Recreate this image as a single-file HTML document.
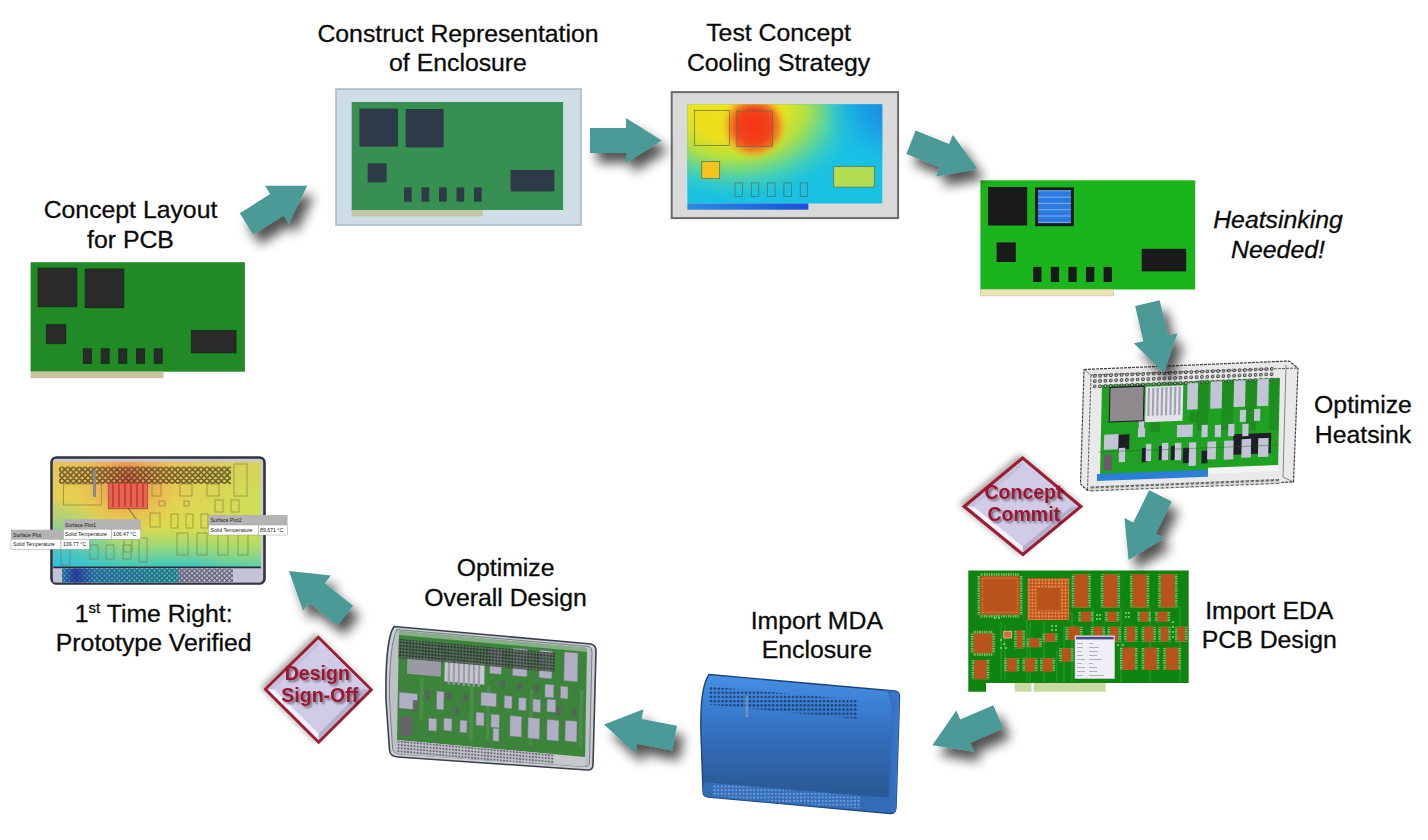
<!DOCTYPE html>
<html><head><meta charset="utf-8">
<style>
html,body{margin:0;padding:0;background:#fff;}
body{width:1428px;height:840px;overflow:hidden;position:relative;}
svg{position:absolute;left:0;top:0;display:block;}
text{font-family:"Liberation Sans",sans-serif;}
.lbl{font-size:24.8px;fill:#0a0a0a;text-anchor:middle;stroke:#0a0a0a;stroke-width:0.3px;}
.dtx{font-size:19.5px;font-weight:bold;fill:#9c1430;text-anchor:middle;}
</style></head><body>
<svg width="1428" height="840" viewBox="0 0 1428 840">
<defs>
 <filter id="sh" x="-60%" y="-60%" width="220%" height="220%">
   <feGaussianBlur in="SourceAlpha" stdDeviation="5.8"/>
   <feOffset dx="7" dy="10" result="o"/>
   <feComponentTransfer><feFuncA type="linear" slope="0.68"/></feComponentTransfer>
   <feMerge><feMergeNode/><feMergeNode in="SourceGraphic"/></feMerge>
 </filter>
 <filter id="tsh" x="-20%" y="-20%" width="140%" height="140%">
   <feGaussianBlur in="SourceAlpha" stdDeviation="0.8"/>
   <feOffset dx="1.5" dy="1.5"/>
   <feComponentTransfer><feFuncA type="linear" slope="0.45"/></feComponentTransfer>
   <feMerge><feMergeNode/><feMergeNode in="SourceGraphic"/></feMerge>
 </filter>
 <filter id="dsh" x="-30%" y="-30%" width="160%" height="160%">
   <feGaussianBlur in="SourceAlpha" stdDeviation="3"/>
   <feOffset dx="-3" dy="-2"/>
   <feComponentTransfer><feFuncA type="linear" slope="0.35"/></feComponentTransfer>
   <feMerge><feMergeNode/><feMergeNode in="SourceGraphic"/></feMerge>
 </filter>
 <path id="arr" d="M0,-12.6 L36,-12.6 L36,-22.4 L71.8,0 L36,22.4 L36,12.6 L0,12.6Z"/>
</defs>

<!-- ============ LABELS ============ -->
<text class="lbl" x="130.5" y="218.3">Concept Layout</text>
<text class="lbl" x="130.5" y="247.6">for PCB</text>
<text class="lbl" x="458" y="42.0">Construct Representation</text>
<text class="lbl" x="458" y="71.2">of Enclosure</text>
<text class="lbl" x="778.6" y="40.8">Test Concept</text>
<text class="lbl" x="778.6" y="70.6">Cooling Strategy</text>
<text class="lbl" x="1278" y="228" font-style="italic">Heatsinking</text>
<text class="lbl" x="1278" y="257.8" font-style="italic">Needed!</text>
<text class="lbl" x="1363" y="412.6">Optimize</text>
<text class="lbl" x="1363" y="442.6">Heatsink</text>
<text class="lbl" x="1269.3" y="618.5">Import EDA</text>
<text class="lbl" x="1269.3" y="647.8">PCB Design</text>
<text class="lbl" x="816.8" y="628.7">Import MDA</text>
<text class="lbl" x="816.8" y="657.6">Enclosure</text>
<text class="lbl" x="505.6" y="576.2">Optimize</text>
<text class="lbl" x="505.6" y="605.6">Overall Design</text>
<text class="lbl" x="153.7" y="621.9">1<tspan font-size="15" dy="-9">st</tspan><tspan dy="9"> Time Right:</tspan></text>
<text class="lbl" x="153.7" y="651.4">Prototype Verified</text>

<!-- ============ BOARD 1: Concept Layout ============ -->
<g id="b1">
 <rect x="30.6" y="262.2" width="214.3" height="109.5" fill="#218a27"/>
 <rect x="30.6" y="371.7" width="133" height="6.5" fill="#cac3a2"/>
 <g fill="#2b2a2b" stroke="#0f2a10" stroke-width="0.8">
  <rect x="38.1" y="268.1" width="38.7" height="38.7"/>
  <rect x="85.1" y="269" width="38.7" height="38.7"/>
  <rect x="46.4" y="324.7" width="19.4" height="19"/>
  <rect x="191.3" y="330.6" width="44.7" height="22.3"/>
  <rect x="83.3" y="348.8" width="8" height="14.5"/>
  <rect x="101.1" y="348.8" width="8" height="14.5"/>
  <rect x="118.8" y="348.8" width="8" height="14.5"/>
  <rect x="136.5" y="348.8" width="8" height="14.5"/>
  <rect x="154.2" y="348.8" width="8" height="14.5"/>
 </g>
</g>

<!-- ============ BOARD 2: Construct ============ -->
<g id="b2">
 <rect x="336" y="89" width="245" height="136" fill="#cfdde6" stroke="#a4b8c8" stroke-width="1.5"/>
 <rect x="351.7" y="102" width="211.4" height="108" fill="#378f52"/>
 <rect x="351.7" y="210" width="131.2" height="6.3" fill="#c3c6a9"/>
 <g fill="#2e3a47">
  <rect x="359.4" y="108.6" width="38.6" height="38"/>
  <rect x="405.7" y="109" width="38" height="38.4"/>
  <rect x="367.7" y="163.4" width="18.9" height="18.9"/>
  <rect x="510.6" y="170" width="43.7" height="21.4"/>
  <rect x="404" y="187.4" width="7.7" height="14.3"/>
  <rect x="421.5" y="187.4" width="7.7" height="14.3"/>
  <rect x="439" y="187.4" width="7.7" height="14.3"/>
  <rect x="456.5" y="187.4" width="7.7" height="14.3"/>
  <rect x="474" y="187.4" width="7.7" height="14.3"/>
 </g>
</g>

<!-- ============ BOARD 3: Test Concept heat map ============ -->
<g id="b3">
 <defs>
  <radialGradient id="warm" cx="735" cy="108" r="145" gradientUnits="userSpaceOnUse" gradientTransform="translate(735 108) scale(1 0.72) translate(-735 -108)">
   <stop offset="0" stop-color="#f2e41c"/>
   <stop offset="0.3" stop-color="#ece41e"/>
   <stop offset="0.48" stop-color="#b4e040"/>
   <stop offset="0.66" stop-color="#58d4a0" stop-opacity="0.9"/>
   <stop offset="0.86" stop-color="#20c4dc" stop-opacity="0.3"/>
   <stop offset="1" stop-color="#18c0e4" stop-opacity="0"/>
  </radialGradient>
  <radialGradient id="hot" cx="754" cy="126" r="34" gradientUnits="userSpaceOnUse">
   <stop offset="0" stop-color="#f62c14"/>
   <stop offset="0.5" stop-color="#f2461c"/>
   <stop offset="0.72" stop-color="#f27a22" stop-opacity="0.85"/>
   <stop offset="1" stop-color="#f0c020" stop-opacity="0"/>
  </radialGradient>
  <radialGradient id="cold" cx="895" cy="100" r="75" gradientUnits="userSpaceOnUse">
   <stop offset="0" stop-color="#1a80e0" stop-opacity="1"/>
   <stop offset="0.5" stop-color="#1a9ce6" stop-opacity="0.8"/>
   <stop offset="1" stop-color="#18bce6" stop-opacity="0"/>
  </radialGradient>
  <linearGradient id="blstrip" x1="0" x2="1" y1="0" y2="0">
   <stop offset="0" stop-color="#2c8ae0"/><stop offset="1" stop-color="#1a50d8"/>
  </linearGradient>
 </defs>
 <rect x="671.7" y="92.1" width="226.4" height="126" fill="#dadada" stroke="#6a6a6a" stroke-width="2"/>
 <rect x="687.4" y="104.3" width="194.9" height="99.2" fill="#18c2e4"/>
 <rect x="687.4" y="104.3" width="194.9" height="99.2" fill="url(#warm)"/>
 <rect x="687.4" y="104.3" width="194.9" height="99.2" fill="url(#hot)"/>
 <rect x="687.4" y="104.3" width="194.9" height="99.2" fill="url(#cold)"/>
 <rect x="687.4" y="203.5" width="121" height="6.2" fill="url(#blstrip)"/>
 <g fill="none" stroke="#5a6a50" stroke-width="0.7">
  <rect x="694.3" y="110.3" width="35.1" height="35.1" fill="#f0d41c" fill-opacity="0.3"/>
  <rect x="736.9" y="110.9" width="35.4" height="35.4" fill="#f04018" fill-opacity="0.4"/>
  <rect x="701.7" y="161.4" width="18" height="17.2" fill="#f4c41c"/>
  <rect x="833.7" y="166.6" width="40.6" height="20.5" fill="#b4dc50"/>
  <rect x="735" y="182.9" width="7.5" height="13.7"/>
  <rect x="751.3" y="182.9" width="7.5" height="13.7"/>
  <rect x="767.6" y="182.9" width="7.5" height="13.7"/>
  <rect x="783.9" y="182.9" width="7.5" height="13.7"/>
  <rect x="800.2" y="182.9" width="7.5" height="13.7"/>
 </g>
</g>

<!-- ============ BOARD 4: Heatsinking ============ -->
<g id="b4">
 <rect x="980.4" y="180.3" width="214.8" height="109.2" fill="#1cb41c"/>
 <rect x="980.4" y="289.5" width="133" height="6.4" fill="#ece4b4" stroke="#c8c090" stroke-width="0.6"/>
 <g fill="#1a1a1a">
  <rect x="988" y="187" width="39.2" height="38.5"/>
  <rect x="1035" y="187.4" width="38.9" height="38.8"/>
  <rect x="996.6" y="242.4" width="19.2" height="19.6"/>
  <rect x="1141.7" y="248.8" width="44.5" height="22.6"/>
  <rect x="1033.2" y="266.9" width="8.3" height="15.1"/>
  <rect x="1050.8" y="266.9" width="8.3" height="15.1"/>
  <rect x="1068.4" y="266.9" width="8.3" height="15.1"/>
  <rect x="1086" y="266.9" width="8.3" height="15.1"/>
  <rect x="1103.6" y="266.9" width="8.3" height="15.1"/>
 </g>
 <rect x="1038" y="190.4" width="32.9" height="32.8" fill="#2a7ae0"/>
 <g stroke="#80aef0" stroke-width="1">
  <line x1="1038" y1="190.8" x2="1071" y2="190.8"/>
  <line x1="1038" y1="197.1" x2="1071" y2="197.1"/>
  <line x1="1038" y1="203.4" x2="1071" y2="203.4"/>
  <line x1="1038" y1="209.7" x2="1071" y2="209.7"/>
  <line x1="1038" y1="216" x2="1071" y2="216"/>
  <line x1="1038" y1="222.4" x2="1071" y2="222.4"/>
 </g>
</g>


<g id="b7">
<defs>
 <linearGradient id="mdag" x1="0" y1="0" x2="0" y2="1">
  <stop offset="0" stop-color="#4690e4"/>
  <stop offset="0.25" stop-color="#3a7cd0"/>
  <stop offset="0.55" stop-color="#3068b2"/>
  <stop offset="0.85" stop-color="#2a5a94"/>
  <stop offset="1" stop-color="#2a5a94"/>
 </linearGradient>
 <linearGradient id="mdaside" x1="0" y1="0" x2="1" y2="0">
  <stop offset="0" stop-color="#2f66b4"/>
  <stop offset="1" stop-color="#3c7ad0"/>
 </linearGradient>
 <pattern id="vent" x="709" y="686.5" width="3.9" height="4.2" patternUnits="userSpaceOnUse">
  <circle cx="1.95" cy="2.1" r="1.25" fill="#1c3c70"/>
 </pattern>
 <pattern id="vent2" x="0" y="0" width="3.6" height="3.6" patternUnits="userSpaceOnUse">
  <rect width="3.6" height="3.6" fill="#3470bc"/>
  <circle cx="1.8" cy="1.8" r="0.85" fill="#98b4dc"/>
 </pattern>
</defs>
<path d="M709,674.5 L895,691 Q900,692 899.5,697 L896,808 Q895.5,814 890,813.5 L708,797 Q703,796.5 703,791 L701,735 Q699.5,688 709,674.5 Z" fill="url(#mdag)" stroke="#1e4478" stroke-width="1.4"/>
<path d="M703.5,781 L892,797" stroke="#2a5aa0" stroke-width="0.8"/>
<path d="M703.5,782 L892,798 L891,813 L708,797 Q703,796.5 703,791 Z" fill="#3470bc" opacity="0.85"/>
<path d="M886,690 Q893,700 891,720 L888,812 L894,813 Q896,812 896,808 L899.5,697 Q900,692 895,691 Z" fill="url(#mdaside)" opacity="0.9"/>
<polygon points="709,686.5 858,700 858,719 709,704.5" fill="url(#vent)"/>
<polygon points="712,783.5 860,796.5 860,808.5 712,796" fill="url(#vent2)"/>
<rect x="745.5" y="696" width="2.5" height="21" fill="#8aa0c0" opacity="0.7"/>
</g>
<g id="b8">
<defs>
 <pattern id="dots8" x="0" y="0" width="3.2" height="3.2" patternUnits="userSpaceOnUse">
  <rect width="3.2" height="3.2" fill="#5e6e62"/>
  <circle cx="1.6" cy="1.6" r="1.1" fill="#1e2a22"/>
 </pattern>
 <pattern id="dots8b" x="0" y="0" width="3.2" height="3.2" patternUnits="userSpaceOnUse">
  <rect width="3.2" height="3.2" fill="#d0d0d8"/>
  <circle cx="1.6" cy="1.6" r="1.05" fill="#6a6a78"/>
 </pattern>
</defs>
<path d="M394,626.5 L591,644 Q596,645 596,651 L593,765 Q592.5,770.5 587,770 L398,757 Q390,756.5 389.5,750 L386,700 Q385,640 394,626.5 Z" fill="#c9cfd4" stroke="#3c4048" stroke-width="1.6"/>
<path d="M397,629.5 L589,646.5 Q592,647.5 592,652 L589.5,763 Q589,767 584,766.5 L399,754 Q393,753.5 392.5,748 L389.5,700 Q389,645 397,629.5 Z" fill="none" stroke="#6a7078" stroke-width="0.8"/>
<clipPath id="clip8"><path d="M397,629.5 L589,646.5 Q592,647.5 592,652 L589.5,763 Q589,767 584,766.5 L399,754 Q393,753.5 392.5,748 L389.5,700 Q389,645 397,629.5 Z"/></clipPath>
<g clip-path="url(#clip8)"><g transform="matrix(1.0000 0.0904 -0.0183 1.0000 399 631)">
 <rect x="0" y="0" width="188" height="111" fill="#3f8c3e"/>
 <rect x="0" y="0" width="188" height="4" fill="#c8d8c8" opacity="0.6"/>
 <rect x="0" y="109" width="188" height="20" fill="#d6d6dc"/>
 <rect x="0" y="109" width="157" height="20" fill="url(#dots8b)"/>
</g></g>
<g transform="matrix(1.0000 0.0904 -0.0183 1.0000 399 631)">

<rect x="21.8" y="45.0" width="3.8" height="41.7" fill="#6aa86a" opacity="0.4"/>
<rect x="71.9" y="48.5" width="4.0" height="53.6" fill="#6aa86a" opacity="0.4"/>
<rect x="88.9" y="47.0" width="3.0" height="53.7" fill="#6aa86a" opacity="0.4"/>
<rect x="131.9" y="47.1" width="3.0" height="54.7" fill="#6aa86a" opacity="0.4"/>
<rect x="181.8" y="42.6" width="3.1" height="57.7" fill="#6aa86a" opacity="0.4"/>
<rect x="1.3" y="60.9" width="18.5" height="16.3" fill="#bdbad4" stroke="#6a7a6a" stroke-width="0.5"/>
<rect x="38.7" y="56.5" width="7.4" height="18.3" fill="#bdbad4" stroke="#6a7a6a" stroke-width="0.5"/>
<rect x="83.0" y="53.5" width="15.6" height="13.6" fill="#bdbad4" stroke="#6a7a6a" stroke-width="0.5"/>
<rect x="31.1" y="84.2" width="8.3" height="12.6" fill="#bdbad4" stroke="#6a7a6a" stroke-width="0.5"/>
<rect x="46.3" y="82.8" width="8.3" height="12.6" fill="#bdbad4" stroke="#6a7a6a" stroke-width="0.5"/>
<rect x="62.5" y="83.3" width="7.2" height="12.3" fill="#bdbad4" stroke="#6a7a6a" stroke-width="0.5"/>
<rect x="78.4" y="73.9" width="8.2" height="13.3" fill="#bdbad4" stroke="#6a7a6a" stroke-width="0.5"/>
<rect x="93.4" y="74.6" width="8.6" height="13.2" fill="#bdbad4" stroke="#6a7a6a" stroke-width="0.5"/>
<rect x="95.6" y="88.4" width="6.2" height="12.9" fill="#bdbad4" stroke="#6a7a6a" stroke-width="0.5"/>
<rect x="91.2" y="8.8" width="11.9" height="25.4" fill="#bdbad4" stroke="#6a7a6a" stroke-width="0.5"/>
<rect x="114.0" y="6.7" width="14.7" height="27.7" fill="#bdbad4" stroke="#6a7a6a" stroke-width="0.5"/>
<rect x="140.6" y="6.3" width="12.9" height="27.8" fill="#bdbad4" stroke="#6a7a6a" stroke-width="0.5"/>
<rect x="165.4" y="5.7" width="13.8" height="29.0" fill="#bdbad4" stroke="#6a7a6a" stroke-width="0.5"/>
<rect x="146.7" y="39.7" width="9.0" height="13.2" fill="#bdbad4" stroke="#6a7a6a" stroke-width="0.5"/>
<rect x="162.2" y="40.3" width="7.7" height="12.3" fill="#bdbad4" stroke="#6a7a6a" stroke-width="0.5"/>
<rect x="106.3" y="54.9" width="7.9" height="12.6" fill="#bdbad4" stroke="#6a7a6a" stroke-width="0.5"/>
<rect x="120.6" y="55.5" width="7.8" height="12.6" fill="#bdbad4" stroke="#6a7a6a" stroke-width="0.5"/>
<rect x="134.9" y="55.8" width="7.8" height="12.8" fill="#bdbad4" stroke="#6a7a6a" stroke-width="0.5"/>
<rect x="149.0" y="54.5" width="8.9" height="12.8" fill="#bdbad4" stroke="#6a7a6a" stroke-width="0.5"/>
<rect x="112.4" y="74.3" width="11.8" height="20.8" fill="#bdbad4" stroke="#6a7a6a" stroke-width="0.5"/>
<rect x="130.4" y="74.6" width="11.9" height="20.8" fill="#bdbad4" stroke="#6a7a6a" stroke-width="0.5"/>
<rect x="149.4" y="74.8" width="12.0" height="20.8" fill="#bdbad4" stroke="#6a7a6a" stroke-width="0.5"/>
<rect x="167.6" y="74.1" width="11.9" height="20.8" fill="#bdbad4" stroke="#6a7a6a" stroke-width="0.5"/>
<rect x="2.6" y="84.8" width="12.8" height="19.3" fill="#6a6a6e" />
<rect x="8.8" y="24.7" width="33.7" height="17.2" fill="#a4a4b0" />
<rect x="46.2" y="24.3" width="39.9" height="21.7" fill="#d4d4e0" />
<rect x="49.5" y="25.7" width="2.2" height="23" fill="#a8a8b8"/><rect x="54.5" y="25.7" width="2.2" height="23" fill="#a8a8b8"/><rect x="59.5" y="25.7" width="2.2" height="23" fill="#a8a8b8"/><rect x="64.5" y="25.7" width="2.2" height="23" fill="#a8a8b8"/><rect x="69.5" y="25.7" width="2.2" height="23" fill="#a8a8b8"/><rect x="74.5" y="25.7" width="2.2" height="23" fill="#a8a8b8"/><rect x="79.5" y="25.7" width="2.2" height="23" fill="#a8a8b8"/>
<rect x="27.0" y="56.6" width="5.2" height="9.5" fill="#5a6a5a" opacity="0.9"/>
<rect x="48.1" y="57.7" width="6.1" height="6.4" fill="#5a6a5a" opacity="0.9"/>
<rect x="65.0" y="57.1" width="5.1" height="7.5" fill="#5a6a5a" opacity="0.9"/>
<rect x="101.7" y="39.8" width="5.1" height="7.5" fill="#5a6a5a" opacity="0.9"/>
<rect x="118.7" y="40.3" width="5.1" height="7.5" fill="#5a6a5a" opacity="0.9"/>
<rect x="135.7" y="40.7" width="5.1" height="7.5" fill="#5a6a5a" opacity="0.9"/>
<rect x="158.1" y="60.7" width="5.2" height="9.5" fill="#5a6a5a" opacity="0.9"/>
<rect x="174.1" y="61.3" width="5.2" height="9.5" fill="#5a6a5a" opacity="0.9"/>
<rect x="15.2" y="67.6" width="5.2" height="11.5" fill="#5a6a5a" opacity="0.9"/>
<rect x="57.3" y="69.8" width="4.1" height="7.6" fill="#5a6a5a" opacity="0.9"/>
<rect x="0" y="8" width="156" height="19" fill="url(#dots8)" opacity="0.9"/>
</g>
<path d="M397,629.5 L589,646.5 Q592,647.5 592,652 L589.5,763 Q589,767 584,766.5 L399,754 Q393,753.5 392.5,748 L389.5,700 Q389,645 397,629.5 Z" fill="#1a2a1e" opacity="0.08"/>
</g>
<g id="b5">
<defs>
 <pattern id="holes5" x="-10" y="-11.1" width="5.36" height="5.3" patternUnits="userSpaceOnUse">
  <circle cx="2.68" cy="2.65" r="1.35" fill="#d8d8d8" stroke="#2a2a2a" stroke-width="0.9"/>
 </pattern>
 <pattern id="holes5b" x="0" y="0" width="5" height="5" patternUnits="userSpaceOnUse">
  <rect width="5" height="5" fill="#d8d8d8"/>
  <circle cx="2.5" cy="2.5" r="1.7" fill="#3a3a3a"/>
  <circle cx="2.5" cy="2.5" r="0.7" fill="#c8c8c8"/>
 </pattern>
</defs>
<polygon points="1084,369.5 1289,361 1298,368 1293.5,482 1087.5,490.5 1080.5,484" fill="#e9e9e9" stroke="#404040" stroke-width="1.2" stroke-dasharray="3 1"/>
<polyline points="1084,369.5 1091,375 1298,368" fill="none" stroke="#505050" stroke-width="0.9" stroke-dasharray="3 1"/>
<polyline points="1091,375 1087.5,490.5" fill="none" stroke="#505050" stroke-width="0.9" stroke-dasharray="3 1"/>
<polyline points="1286,365 1283,477 1293.5,482" fill="none" stroke="#6a6a6a" stroke-width="0.8"/>
<g transform="matrix(1.0000 -0.0393 -0.0217 1.0000 1102 384)">
 <rect x="0" y="1" width="178" height="91" fill="#21a123"/>
 <rect x="-10" y="-11.6" width="182" height="15.9" fill="url(#holes5)"/>
 <rect x="-10" y="102" width="190" height="5" fill="url(#holes5b)"/>
 <rect x="-3" y="90" width="111" height="7" fill="#2a7fd8"/>
 <rect x="108" y="88" width="70" height="6" fill="#f4f4f4"/>
</g>
<g transform="matrix(1.0000 -0.0393 -0.0217 1.0000 1102 384)">

<rect x="96.0" y="-0.2" width="11.1" height="50.4" fill="#167a1a" opacity="0.45"/>
<rect x="120.0" y="0.7" width="12.1" height="50.5" fill="#167a1a" opacity="0.45"/>
<rect x="144.0" y="1.7" width="11.1" height="50.4" fill="#167a1a" opacity="0.45"/>
<rect x="168.0" y="0.6" width="9.1" height="52.4" fill="#167a1a" opacity="0.45"/>
<rect x="48.9" y="39.9" width="10.2" height="10.4" fill="#167a1a" opacity="0.45"/>
<rect x="63.4" y="18.5" width="7.3" height="12.3" fill="#167a1a" opacity="0.45"/>
<rect x="88.7" y="31.5" width="8.2" height="10.3" fill="#167a1a" opacity="0.45"/>
<rect x="17.4" y="51.4" width="11.2" height="14.9" fill="#1e1e26" />
<rect x="132.5" y="55.4" width="37.9" height="20.6" fill="#1e1e26" />
<rect x="101.2" y="70.8" width="6.1" height="12.7" fill="#1e1e26" />
<rect x="82.5" y="67.2" width="6.3" height="15.2" fill="#1e1e26" />
<rect x="41.4" y="65.6" width="5.3" height="14.2" fill="#1e1e26" />
<rect x="58.4" y="64.3" width="4.3" height="14.2" fill="#1e1e26" />
<rect x="70.4" y="64.8" width="5.3" height="14.2" fill="#1e1e26" />
<rect x="3.3" y="50.8" width="14.4" height="15.1" fill="#c4c4d8" />
<rect x="37.7" y="33.5" width="5.3" height="14.2" fill="#c4c4d8" />
<rect x="37.0" y="45.5" width="7.2" height="9.3" fill="#c4c4d8" />
<rect x="85.6" y="2.7" width="10.6" height="26.3" fill="#c4c4d8" />
<rect x="108.8" y="2.0" width="11.5" height="27.1" fill="#c4c4d8" />
<rect x="132.2" y="2.0" width="11.4" height="26.3" fill="#c4c4d8" />
<rect x="155.5" y="1.3" width="11.4" height="27.0" fill="#c4c4d8" />
<rect x="58.1" y="4.3" width="8.3" height="14.3" fill="#c4c4d8" />
<rect x="76.0" y="44.0" width="15.8" height="12.3" fill="#c4c4d8" />
<rect x="100.7" y="45.0" width="6.1" height="12.2" fill="#c4c4d8" />
<rect x="114.0" y="45.5" width="6.1" height="12.2" fill="#c4c4d8" />
<rect x="127.3" y="45.0" width="6.2" height="12.2" fill="#c4c4d8" />
<rect x="141.5" y="45.6" width="6.1" height="12.2" fill="#c4c4d8" />
<rect x="138.7" y="31.5" width="6.1" height="11.9" fill="#c4c4d8" />
<rect x="152.9" y="31.0" width="6.1" height="12.0" fill="#c4c4d8" />
<rect x="141.0" y="60.7" width="9.5" height="18.7" fill="#c4c4d8" />
<rect x="157.6" y="60.5" width="10.4" height="18.8" fill="#c4c4d8" />
<rect x="123.5" y="61.7" width="9.5" height="18.8" fill="#c4c4d8" />
<rect x="106.8" y="61.9" width="8.7" height="17.8" fill="#c4c4d8" />
<rect x="88.5" y="62.0" width="7.1" height="23.6" fill="#c4c4d8" />
<rect x="45.3" y="61.8" width="5.4" height="17.2" fill="#c4c4d8" />
<rect x="61.3" y="61.4" width="6.4" height="17.3" fill="#c4c4d8" />
<rect x="74.3" y="61.9" width="6.4" height="17.3" fill="#c4c4d8" />
<rect x="18.4" y="64.7" width="6.3" height="14.2" fill="#c4c4d8" />
<rect x="8.1" y="3.8" width="34.1" height="34.6" fill="#8e8a8e" stroke="#1a1a1a" stroke-width="1"/>
<rect x="43.9" y="4.4" width="37.5" height="35.6" fill="#e2e2ea" />
<rect x="46.1" y="5.8" width="2" height="28" fill="#a0a0b0"/><rect x="50.5" y="5.8" width="2" height="28" fill="#a0a0b0"/><rect x="54.9" y="5.8" width="2" height="28" fill="#a0a0b0"/><rect x="59.3" y="5.8" width="2" height="28" fill="#a0a0b0"/><rect x="63.7" y="5.8" width="2" height="28" fill="#a0a0b0"/><rect x="68.1" y="5.8" width="2" height="28" fill="#a0a0b0"/><rect x="72.5" y="5.8" width="2" height="28" fill="#a0a0b0"/><rect x="76.9" y="5.8" width="2" height="28" fill="#a0a0b0"/>
<rect x="3.5" y="71.1" width="8.3" height="15.3" fill="#6e5a6a" />
<line x1="-2" y1="68" x2="178" y2="68" stroke="#1a5a1a" stroke-width="0.6" opacity="0.7"/>
</g></g>
<g id="b9">
<defs>
 <linearGradient id="base9" x1="0" y1="462" x2="0" y2="567" gradientUnits="userSpaceOnUse">
  <stop offset="0" stop-color="#e8c25a"/>
  <stop offset="0.35" stop-color="#e6d052"/>
  <stop offset="0.62" stop-color="#dcdc4c"/>
  <stop offset="0.8" stop-color="#9cd878"/>
  <stop offset="1" stop-color="#3cc8c0"/>
 </linearGradient>
 <radialGradient id="hot9" cx="128" cy="482" r="55" gradientUnits="userSpaceOnUse">
  <stop offset="0" stop-color="#e85a48" stop-opacity="0.95"/>
  <stop offset="0.45" stop-color="#ee9050" stop-opacity="0.5"/>
  <stop offset="1" stop-color="#f0b050" stop-opacity="0"/>
 </radialGradient>
 <radialGradient id="cold9" cx="55" cy="567" r="70" gradientUnits="userSpaceOnUse">
  <stop offset="0" stop-color="#30c0dc" stop-opacity="0.95"/>
  <stop offset="1" stop-color="#30c0dc" stop-opacity="0"/>
 </radialGradient>
 <radialGradient id="gr9" cx="262" cy="500" r="90" gradientUnits="userSpaceOnUse">
  <stop offset="0" stop-color="#c8e058" stop-opacity="0.9"/>
  <stop offset="1" stop-color="#c8e058" stop-opacity="0"/>
 </radialGradient>
 <pattern id="hole9" x="59" y="466.5" width="5.8" height="5.8" patternUnits="userSpaceOnUse">
  <circle cx="2.9" cy="2.9" r="2.2" fill="none" stroke="#3a2a18" stroke-width="1"/>
 </pattern>
 <pattern id="hole9b" x="62" y="568.5" width="5" height="4.8" patternUnits="userSpaceOnUse">
  <circle cx="2.5" cy="2.4" r="1.9" fill="none" stroke="#303048" stroke-width="0.9"/>
 </pattern>
 <linearGradient id="strip9" x1="0" y1="0" x2="1" y2="0">
  <stop offset="0" stop-color="#38b0e0"/>
  <stop offset="0.08" stop-color="#2040c8"/>
  <stop offset="0.18" stop-color="#30a0d8"/>
  <stop offset="0.66" stop-color="#30c0c0"/>
  <stop offset="0.7" stop-color="#b0b0c4"/>
  <stop offset="1" stop-color="#c0c0d4"/>
 </linearGradient>
</defs>
<rect x="51.5" y="457.5" width="213" height="126" rx="5" fill="#c8c8dc" stroke="#33333f" stroke-width="2.6"/>
<rect x="53.3" y="461.7" width="207.5" height="105.8" fill="url(#base9)"/>
<rect x="53.3" y="461.7" width="207.5" height="105.8" fill="url(#gr9)"/>
<rect x="53.3" y="461.7" width="207.5" height="105.8" fill="url(#cold9)"/>
<rect x="53.3" y="461.7" width="207.5" height="105.8" fill="url(#hot9)"/>
<rect x="53.3" y="566.5" width="207.5" height="2" fill="#2a2a38"/>
<rect x="53.3" y="568.5" width="207.5" height="14" fill="#c4c4d8"/>
<rect x="62" y="568.5" width="171" height="14" fill="url(#strip9)"/>
<rect x="62" y="568.5" width="171" height="14" fill="url(#hole9b)"/>
<rect x="59" y="466.5" width="172" height="17.5" fill="url(#hole9)"/>
<g fill="none" stroke="#7a6a40" stroke-width="0.7" opacity="0.8">
 <rect x="63.3" y="484" width="38" height="21"/>
 <rect x="152" y="484" width="9" height="12"/><rect x="180" y="484" width="12" height="12"/><rect x="207" y="484" width="12" height="12"/>
 <rect x="234" y="464" width="13" height="32"/>
 <rect x="159" y="501" width="6" height="5"/><rect x="184" y="501" width="5" height="5"/>
 <rect x="215" y="500" width="8" height="12"/><rect x="231" y="500" width="8" height="12"/>
 <rect x="150" y="513" width="10" height="14"/><rect x="171" y="514" width="7" height="14"/><rect x="186" y="514" width="7" height="14"/><rect x="201" y="514" width="7" height="14"/>
 <rect x="90" y="545" width="8" height="14"/><rect x="106" y="545" width="8" height="14"/><rect x="123" y="545" width="8" height="14"/>
 <rect x="124" y="536" width="8" height="16"/><rect x="139" y="538" width="8" height="24"/>
 <rect x="177" y="533" width="11" height="22"/><rect x="197" y="533" width="10" height="22"/><rect x="218" y="533" width="10" height="22"/><rect x="238" y="533" width="10" height="22"/>
 <rect x="61" y="548" width="9" height="17"/>
</g>
<rect x="108.3" y="483.2" width="39.2" height="25.5" fill="#e66450" stroke="#a04a38" stroke-width="0.8"/>
<g fill="#c84038">
 <rect x="112" y="484" width="2" height="23"/><rect x="118" y="484" width="2" height="23"/><rect x="124" y="484" width="2" height="23"/><rect x="130" y="484" width="2" height="23"/><rect x="136" y="484" width="2" height="23"/><rect x="142" y="484" width="2" height="23"/>
</g>
<rect x="93" y="470" width="3" height="27" fill="#8a8a8a"/>
<line x1="128" y1="508" x2="137" y2="520" stroke="#303030" stroke-width="0.7"/>
<!-- labels -->
<g font-family="Liberation Sans" font-size="5.2" fill="#202020">
 <rect x="63.3" y="519.2" width="77.5" height="10" fill="#b4b4b4"/>
 <text x="65" y="526.5">Surface Plot1</text>
 <rect x="63.3" y="529.2" width="48" height="10" fill="#fff" stroke="#999" stroke-width="0.5"/>
 <rect x="111.3" y="529.2" width="29.5" height="10" fill="#fff" stroke="#999" stroke-width="0.5"/>
 <text x="65" y="536.3">Solid Temperature</text><text x="113" y="536.3">106.47 °C</text>
 <rect x="11" y="529.7" width="52.3" height="9.5" fill="#b4b4b4"/>
 <text x="13" y="536.7">Surface Plot</text>
 <rect x="11" y="539.2" width="50" height="10" fill="#fff" stroke="#999" stroke-width="0.5"/>
 <rect x="61" y="539.2" width="28.2" height="10" fill="#fff" stroke="#999" stroke-width="0.5"/>
 <text x="13" y="546.3">Solid Temperature</text><text x="63" y="546.3">109.77 °C</text>
 <rect x="208.7" y="515" width="78.8" height="10" fill="#b4b4b4"/>
 <text x="210.5" y="522.3">Surface Plot2</text>
 <rect x="208.7" y="525" width="49.6" height="10" fill="#fff" stroke="#999" stroke-width="0.5"/>
 <rect x="258.3" y="525" width="29.2" height="10" fill="#fff" stroke="#999" stroke-width="0.5"/>
 <text x="210.5" y="532.3">Solid Temperature</text><text x="260" y="532.3">89.671 °C</text>
</g>
</g>
<g id="b6">
 <defs>
  <pattern id="bga" x="1027.5" y="578.3" width="3.3" height="3.3" patternUnits="userSpaceOnUse">
   <rect width="3.3" height="3.3" fill="#c0561e"/>
   <circle cx="1.65" cy="1.65" r="1.05" fill="#f09050"/>
  </pattern>
  <pattern id="pinh" x="0" y="0" width="3" height="2.4" patternUnits="userSpaceOnUse">
   <rect width="3" height="1.3" fill="#78cc70"/>
  </pattern>
  <pattern id="pinv" x="0" y="0" width="2.4" height="3" patternUnits="userSpaceOnUse">
   <rect width="1.3" height="3" fill="#78cc70"/>
  </pattern>
 </defs>
 <path d="M968.3,570.4 H1188.7 V683 H986 V691.7 H968.3 Z" fill="#0f8411"/>
 <rect x="1014.7" y="683" width="16.8" height="8.7" fill="#c9d9a0"/>
 <rect x="1033.6" y="683" width="72" height="8.7" fill="#c9d9a0"/>
 <g stroke="#5cc05c" stroke-width="0.6" opacity="0.75">
  <line x1="1001" y1="622" x2="1001" y2="680"/><line x1="1005" y1="625" x2="1005" y2="680"/>
  <line x1="1027" y1="620" x2="1027" y2="682"/><line x1="1030" y1="622" x2="1030" y2="682"/>
  <line x1="1044" y1="622" x2="1044" y2="682"/><line x1="1057" y1="650" x2="1057" y2="682"/>
  <line x1="1064" y1="626" x2="1064" y2="682"/><line x1="1072" y1="612" x2="1072" y2="682"/>
  <line x1="1093" y1="608" x2="1093" y2="630"/><line x1="1121" y1="608" x2="1121" y2="682"/>
  <line x1="1150" y1="608" x2="1150" y2="682"/><line x1="1180" y1="606" x2="1180" y2="682"/>
 </g>

<rect x="977.4" y="575.8" width="45.2" height="39.2" fill="url(#pinh)"/>
<rect x="980.0" y="573.2" width="40.0" height="44.4" fill="url(#pinv)"/>
<rect x="970.7" y="633.3" width="24.4" height="20.0" fill="url(#pinh)"/>
<rect x="973.3" y="630.7" width="19.2" height="25.2" fill="url(#pinv)"/>
<rect x="971.6" y="660.0" width="17.7" height="19.2" fill="url(#pinh)"/>
<rect x="1014.1" y="630.0" width="11.0" height="18.3" fill="url(#pinh)"/>
<rect x="1026.6" y="638.3" width="15.2" height="9.2" fill="url(#pinh)"/>
<rect x="1042.4" y="633.3" width="15.2" height="8.4" fill="url(#pinh)"/>
<rect x="1004.1" y="658.3" width="15.2" height="13.4" fill="url(#pinh)"/>
<rect x="1022.4" y="658.3" width="15.2" height="13.4" fill="url(#pinh)"/>
<rect x="1039.9" y="658.3" width="15.2" height="13.4" fill="url(#pinh)"/>
<rect x="1059.1" y="648.3" width="14.3" height="13.4" fill="url(#pinh)"/>
<rect x="1065.4" y="626.7" width="17.2" height="13.3" fill="url(#pinh)"/>
<rect x="1071.6" y="574.2" width="19.3" height="33.3" fill="url(#pinh)"/>
<rect x="1100.7" y="574.2" width="19.4" height="33.3" fill="url(#pinh)"/>
<rect x="1129.9" y="574.2" width="19.4" height="33.3" fill="url(#pinh)"/>
<rect x="1158.2" y="574.2" width="19.4" height="33.3" fill="url(#pinh)"/>
<rect x="1078.2" y="611.7" width="15.2" height="10.0" fill="url(#pinh)"/>
<rect x="1104.9" y="611.7" width="14.4" height="10.0" fill="url(#pinh)"/>
<rect x="1137.4" y="611.7" width="13.5" height="10.0" fill="url(#pinh)"/>
<rect x="1154.9" y="611.7" width="15.2" height="10.0" fill="url(#pinh)"/>
<rect x="1090.7" y="626.7" width="14.4" height="15.0" fill="url(#pinh)"/>
<rect x="1107.4" y="626.7" width="13.5" height="15.0" fill="url(#pinh)"/>
<rect x="1124.1" y="626.7" width="13.5" height="15.0" fill="url(#pinh)"/>
<rect x="1141.6" y="626.7" width="14.3" height="15.0" fill="url(#pinh)"/>
<rect x="1158.2" y="626.7" width="12.7" height="15.0" fill="url(#pinh)"/>
<rect x="1174.9" y="626.7" width="12.7" height="15.0" fill="url(#pinh)"/>
<rect x="1119.9" y="647.5" width="17.7" height="22.5" fill="url(#pinh)"/>
<rect x="1141.6" y="647.5" width="17.7" height="22.5" fill="url(#pinh)"/>
<rect x="1163.2" y="647.5" width="17.7" height="22.5" fill="url(#pinh)"/>
<rect x="980.0" y="575.8" width="40.0" height="39.2" fill="#b9531c"/>
<rect x="973.3" y="633.3" width="19.2" height="20.0" fill="#b9531c"/>
<rect x="974.2" y="660.0" width="12.5" height="19.2" fill="#b9531c"/>
<rect x="1016.7" y="630.0" width="5.8" height="18.3" fill="#b9531c"/>
<rect x="1029.2" y="638.3" width="10.0" height="9.2" fill="#b9531c"/>
<rect x="1045.0" y="633.3" width="10.0" height="8.4" fill="#b9531c"/>
<rect x="1006.7" y="658.3" width="10.0" height="13.4" fill="#b9531c"/>
<rect x="1025.0" y="658.3" width="10.0" height="13.4" fill="#b9531c"/>
<rect x="1042.5" y="658.3" width="10.0" height="13.4" fill="#b9531c"/>
<rect x="1061.7" y="648.3" width="9.1" height="13.4" fill="#b9531c"/>
<rect x="1068.0" y="626.7" width="12.0" height="13.3" fill="#b9531c"/>
<rect x="1074.2" y="574.2" width="14.1" height="33.3" fill="#b9531c"/>
<rect x="1103.3" y="574.2" width="14.2" height="33.3" fill="#b9531c"/>
<rect x="1132.5" y="574.2" width="14.2" height="33.3" fill="#b9531c"/>
<rect x="1160.8" y="574.2" width="14.2" height="33.3" fill="#b9531c"/>
<rect x="1080.8" y="611.7" width="10.0" height="10.0" fill="#b9531c"/>
<rect x="1107.5" y="611.7" width="9.2" height="10.0" fill="#b9531c"/>
<rect x="1140.0" y="611.7" width="8.3" height="10.0" fill="#b9531c"/>
<rect x="1157.5" y="611.7" width="10.0" height="10.0" fill="#b9531c"/>
<rect x="1093.3" y="626.7" width="9.2" height="15.0" fill="#b9531c"/>
<rect x="1110.0" y="626.7" width="8.3" height="15.0" fill="#b9531c"/>
<rect x="1126.7" y="626.7" width="8.3" height="15.0" fill="#b9531c"/>
<rect x="1144.2" y="626.7" width="9.1" height="15.0" fill="#b9531c"/>
<rect x="1160.8" y="626.7" width="7.5" height="15.0" fill="#b9531c"/>
<rect x="1177.5" y="626.7" width="7.5" height="15.0" fill="#b9531c"/>
<rect x="1122.5" y="647.5" width="12.5" height="22.5" fill="#b9531c"/>
<rect x="1144.2" y="647.5" width="12.5" height="22.5" fill="#b9531c"/>
<rect x="1165.8" y="647.5" width="12.5" height="22.5" fill="#b9531c"/>

 <rect x="982.5" y="578.3" width="35" height="34.2" fill="none" stroke="#d88048" stroke-width="1.4" stroke-dasharray="0.6 0.7"/>
 <rect x="1027.5" y="578.3" width="41.7" height="41.7" fill="url(#bga)"/>
 <rect x="1036.7" y="588.3" width="23.3" height="21.7" fill="#b9531c"/>
 <rect x="1003.7" y="631.3" width="8" height="6.7" fill="#d86a40" stroke="#f0c0a0" stroke-width="0.8"/>
 <g fill="#9ae09a">
  <circle cx="995" cy="618" r="0.9"/><circle cx="999" cy="618" r="0.9"/>
  <circle cx="1052" cy="626" r="0.9"/><circle cx="1056" cy="626" r="0.9"/><circle cx="1052" cy="630" r="0.9"/><circle cx="1056" cy="630" r="0.9"/>
  <circle cx="1097" cy="615" r="0.9"/><circle cx="1100" cy="615" r="0.9"/><circle cx="1097" cy="619" r="0.9"/><circle cx="1100" cy="619" r="0.9"/>
  <circle cx="1126" cy="613" r="0.9"/><circle cx="1129" cy="613" r="0.9"/><circle cx="1126" cy="617" r="0.9"/><circle cx="1129" cy="617" r="0.9"/>
  <circle cx="1173" cy="622" r="0.9"/><circle cx="1173" cy="627" r="0.9"/><circle cx="1173" cy="632" r="0.9"/><circle cx="1173" cy="637" r="0.9"/>
  <circle cx="1118" cy="645" r="0.9"/><circle cx="1123" cy="645" r="0.9"/>
  <circle cx="1001" cy="640" r="0.9"/><circle cx="1004" cy="644" r="0.9"/><circle cx="1001" cy="648" r="0.9"/><circle cx="1006" cy="648" r="0.9"/>
 </g>
 <rect x="1075" y="635.8" width="39.7" height="42.9" fill="#f0eef6" stroke="#c0c0cc" stroke-width="0.6"/>
 <rect x="1076" y="636.8" width="37.7" height="2.6" fill="#4a4a88"/>
 <g stroke="#a0a0b0" stroke-width="0.8">
  <line x1="1077" y1="643.5" x2="1083" y2="643.5"/><line x1="1089" y1="643.5" x2="1093" y2="643.5"/>
  <line x1="1077" y1="647.5" x2="1083" y2="647.5"/><line x1="1089" y1="647.5" x2="1099" y2="647.5"/>
  <line x1="1077" y1="651.5" x2="1082" y2="651.5"/><line x1="1089" y1="651.5" x2="1098" y2="651.5"/>
  <line x1="1077" y1="655.5" x2="1083" y2="655.5"/><line x1="1089" y1="655.5" x2="1097" y2="655.5"/>
  <line x1="1077" y1="659.5" x2="1085" y2="659.5"/><line x1="1089" y1="659.5" x2="1102" y2="659.5"/>
  <line x1="1077" y1="663.5" x2="1082" y2="663.5"/><line x1="1089" y1="663.5" x2="1093" y2="663.5"/>
  <line x1="1077" y1="667.5" x2="1085" y2="667.5"/><line x1="1089" y1="667.5" x2="1097" y2="667.5"/>
  <line x1="1077" y1="671.5" x2="1085" y2="671.5"/><line x1="1089" y1="671.5" x2="1097" y2="671.5"/>
  <line x1="1077" y1="675.5" x2="1083" y2="675.5"/><line x1="1089" y1="675.5" x2="1104" y2="675.5"/>
 </g>
</g>

<!-- ============ ARROWS ============ -->
<g fill="#4b9a98">
 <g filter="url(#sh)"><use href="#arr" transform="translate(246.5 224) rotate(-32.3)"/></g>
 <g filter="url(#sh)"><use href="#arr" transform="translate(590 140.5) rotate(0)"/></g>
 <g filter="url(#sh)"><use href="#arr" transform="translate(911 142.3) rotate(21.8)"/></g>
 <g filter="url(#sh)"><use href="#arr" transform="translate(1147.4 303.2) rotate(76.8)"/></g>
 <g filter="url(#sh)"><use href="#arr" transform="translate(1160.5 495.8) rotate(116.4)"/></g>
 <g filter="url(#sh)"><use href="#arr" transform="translate(998.3 716.9) rotate(156.7)"/></g>
 <g filter="url(#sh)"><use href="#arr" transform="translate(674.6 738.1) rotate(190.9)"/></g>
 <g filter="url(#sh)"><use href="#arr" transform="translate(345.2 615.5) rotate(218.4)"/></g>
</g>

<!-- ============ DIAMONDS ============ -->
<g filter="url(#dsh)">
 <polygon points="1022.6,456 1083.3,506.4 1022.9,556.4 961.7,506.4" fill="#9c1a30"/>
 <polygon points="1022.7,460 1078.4,506.4 1022.8,552.4 966.8,506.4" fill="#d0cce8"/>
 <polygon points="967.3,506.4 973.5,506.4 1022.8,546.5 1022.8,551.9" fill="#f4f2fa"/>
 <polygon points="1077.9,506.4 1071.7,506.4 1022.8,546.5 1022.8,551.9" fill="#b4b0cc"/>
 <polygon points="967.3,506.4 973.5,506.4 1022.7,465.8 1022.7,460.5" fill="#c4c0dc"/>
</g>
<g filter="url(#tsh)">
 <text class="dtx" x="1023.5" y="498.6">Concept</text>
 <text class="dtx" x="1023.8" y="521.1">Commit</text>
</g>
<g filter="url(#dsh)">
 <polygon points="318.3,635.3 373.3,689.7 318.7,744.2 263.3,689.2" fill="#9c1a30"/>
 <polygon points="318.4,639.3 369.3,689.6 318.6,740.2 267.3,689.3" fill="#d0cce8"/>
 <polygon points="267.8,689.3 274,689.3 318.6,733.8 318.6,739.7" fill="#f4f2fa"/>
 <polygon points="368.8,689.6 362.6,689.6 318.6,733.8 318.6,739.7" fill="#b4b0cc"/>
 <polygon points="267.8,689.3 274,689.3 318.4,645.5 318.4,639.8" fill="#c4c0dc"/>
</g>
<g filter="url(#tsh)">
 <text class="dtx" x="317.3" y="680">Design</text>
 <text class="dtx" x="319.8" y="701.7">Sign-Off</text>
</g>

</svg>
</body></html>
